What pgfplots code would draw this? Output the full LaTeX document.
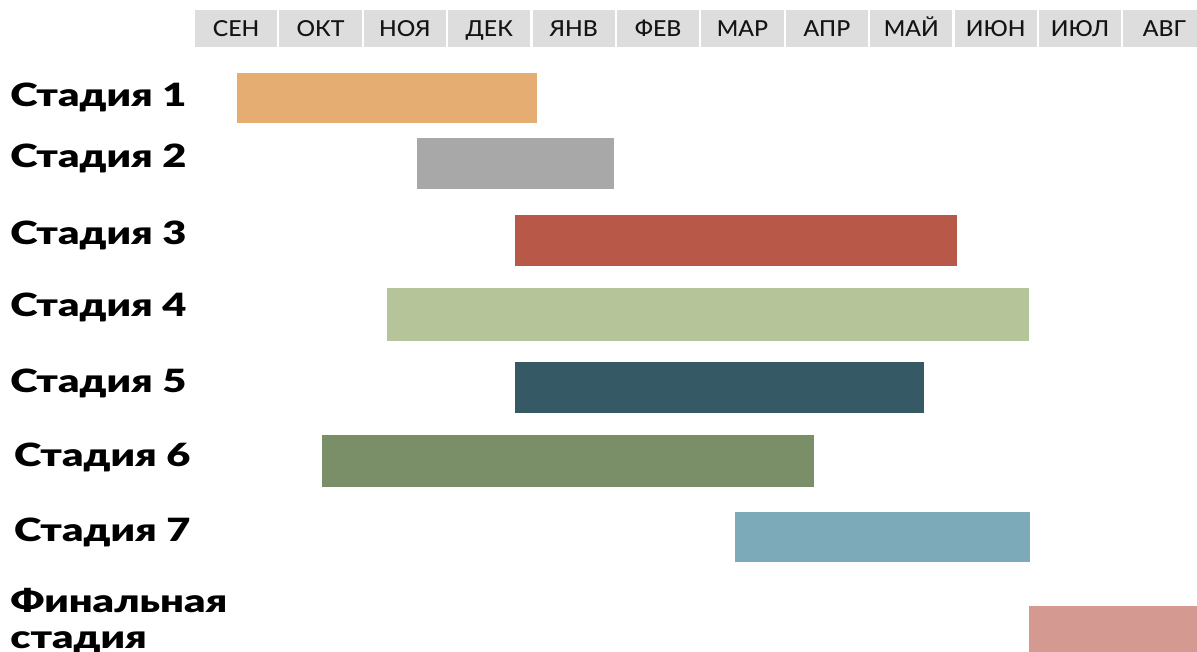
\documentclass[border=0pt]{standalone}
\usepackage{pgfplots}
\pgfplotsset{compat=1.18}
\usepackage{fontspec}
\setmainfont{Lato}
\newfontfamily\heavy{Lato Black}
\newfontfamily\medium{Lato Medium}
\definecolor{cA}{HTML}{E6AD72}
\definecolor{cB}{HTML}{A8A8A8}
\definecolor{cC}{HTML}{B85849}
\definecolor{cD}{HTML}{B5C599}
\definecolor{cE}{HTML}{355A66}
\definecolor{cF}{HTML}{7A8E67}
\definecolor{cG}{HTML}{7DAAB8}
\definecolor{cH}{HTML}{D49A91}
\definecolor{hdr}{HTML}{DDDDDD}
\begin{document}
\begin{tikzpicture}[x=1pt,y=1pt]
\begin{axis}[at={(195pt,0pt)}, anchor=south west, scale only axis,
  width=1002pt, height=652pt, xmin=0, xmax=11.872, ymin=0, ymax=652,
  y dir=reverse, axis lines=none, clip mode=individual]
% header cells
\pgfplotsinvokeforeach{0,...,11}{
  \fill[hdr] (axis cs:#1+0.0,10) rectangle (axis cs:#1+0.974,47);
}
\pgfplotsforeachungrouped \m/\lab in {0/СЕН,1/ОКТ,2/НОЯ,3/ДЕК,4/ЯНВ,5/ФЕВ,6/МАР,7/АПР,8/МАЙ,9/ИЮН,10/ИЮЛ,11/АВГ}{
  \edef\temp{\noexpand\node[anchor=base, inner sep=0pt, xscale=1.05, font=\noexpand\medium\noexpand\fontsize{22}{22}\noexpand\selectfont, text=black!92] at (axis cs:\m+0.487,37) {\lab};}
  \temp
}
% bars: (start,top) (end,top) (end,bottom) (start,bottom)
\addplot[fill=cA, draw=none] coordinates {(0.501,72.7) (4.049,72.7) (4.049,123.3) (0.501,123.3)} -- cycle;
\addplot[fill=cB, draw=none] coordinates {(2.627,137.7) (4.964,137.7) (4.964,189.0) (2.627,189.0)} -- cycle;
\addplot[fill=cC, draw=none] coordinates {(3.791,215.0) (9.025,215.0) (9.025,266.0) (3.791,266.0)} -- cycle;
\addplot[fill=cD, draw=none] coordinates {(2.278,288.5) (9.885,288.5) (9.885,341.5) (2.278,341.5)} -- cycle;
\addplot[fill=cE, draw=none] coordinates {(3.791,361.7) (8.638,361.7) (8.638,413.3) (3.791,413.3)} -- cycle;
\addplot[fill=cF, draw=none] coordinates {(1.501,435.0) (7.338,435.0) (7.338,486.7) (1.501,486.7)} -- cycle;
\addplot[fill=cG, draw=none] coordinates {(6.402,511.7) (9.893,511.7) (9.893,562.3) (6.402,562.3)} -- cycle;
\addplot[fill=cH, draw=none] coordinates {(9.887,606.0) (12.500,606.0) (12.500,660.0) (9.887,660.0)} -- cycle;
% stage labels
\tikzset{lbl/.style={anchor=base west, inner sep=0pt, xscale=1.3, font=\heavy\fontsize{32}{32}\selectfont}}
\node[lbl] at (axis cs:-2.192,107) {Стадия 1};
\node[lbl] at (axis cs:-2.192,168) {Стадия 2};
\node[lbl] at (axis cs:-2.192,245) {Стадия 3};
\node[lbl] at (axis cs:-2.192,317) {Стадия 4};
\node[lbl] at (axis cs:-2.192,392) {Стадия 5};
\node[lbl] at (axis cs:-2.145,466) {Стадия 6};
\node[lbl] at (axis cs:-2.145,541) {Стадия 7};
\node[lbl] at (axis cs:-2.192,612) {Финальная};
\node[lbl] at (axis cs:-2.192,648) {стадия};
\end{axis}
\pgfresetboundingbox
\path[use as bounding box] (0,0) rectangle (1197,652);
\end{tikzpicture}
\end{document}
